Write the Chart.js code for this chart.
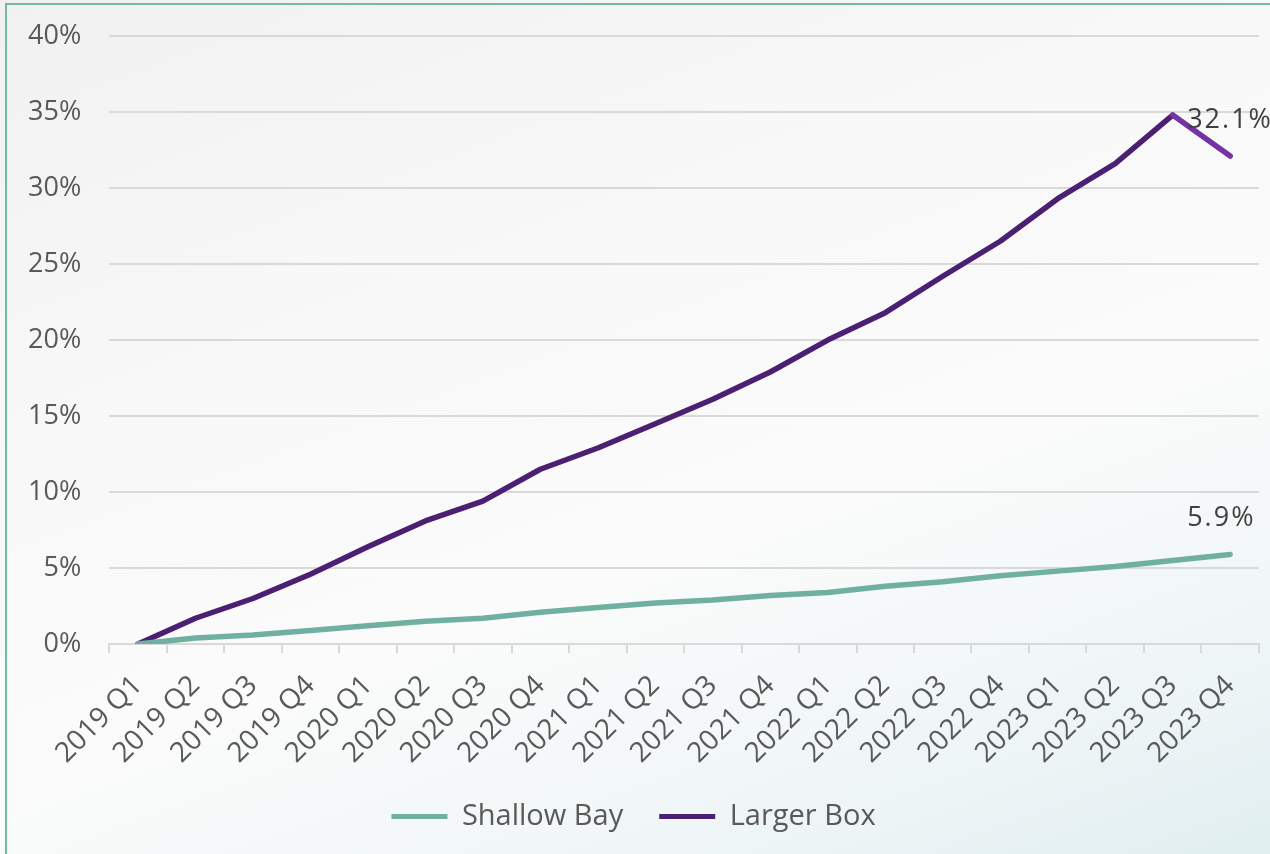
<html>
<head>
    <meta charset="utf-8">
    <script src="https://cdn.jsdelivr.net/npm/chart.js@4.4.1/dist/chart.umd.min.js"></script>
    <style>
        html, body {
            margin: 0;
            padding: 0;
            overflow: hidden;
        }
        .frame {
            position: relative;
            width: 1270px;
            height: 854px;
            background: linear-gradient(160deg, #f1f1f1 0%, #f8f8f8 35%, #fbfbfb 60%, #eef5f6 85%, #e0eef0 100%);
        }
        .border {
            position: absolute;
            left: 5px;
            top: 3px;
            width: 1300px;
            height: 900px;
            border: 2px solid #74b8a6;
        }
        .chart {
            position: absolute;
            left: 0;
            top: 0;
            width: 1270px;
            height: 854px;
        }
    </style>
</head>
<body>
    <div class="frame">
        <div class="border"></div>
        <div class="chart"><canvas id="canvas"></canvas></div>
    </div>
    <script>
        var quarters = ['2019 Q1', '2019 Q2', '2019 Q3', '2019 Q4', '2020 Q1', '2020 Q2', '2020 Q3', '2020 Q4',
            '2021 Q1', '2021 Q2', '2021 Q3', '2021 Q4', '2022 Q1', '2022 Q2', '2022 Q3', '2022 Q4',
            '2023 Q1', '2023 Q2', '2023 Q3', '2023 Q4'];
        var shallowBay = [0, 0.4, 0.6, 0.9, 1.2, 1.5, 1.7, 2.1, 2.4, 2.7, 2.9, 3.2, 3.4, 3.8, 4.1, 4.5, 4.8, 5.1, 5.5, 5.9];
        var largerBox = [0, 1.7, 3.0, 4.6, 6.4, 8.1, 9.4, 11.5, 12.9, 14.5, 16.1, 17.9, 20.0, 21.8, 24.2, 26.5, 29.3, 31.6, 34.8, 32.1];
        var yTicks = [0, 5, 10, 15, 20, 25, 30, 35, 40];

        var green = '#70b0a0';
        var purple = '#4b2072';
        var purpleLight = '#7432a4';
        var textColor = '#595959';

        // value label above the last point of each series
        var endLabels = {
            id: 'endLabels',
            afterDatasetsDraw: function(chart) {
                var ctx = chart.ctx;
                ctx.save();
                ctx.font = '27px "Open Sans"';
                ctx.fillStyle = '#404040';
                ctx.textAlign = 'left';
                ctx.textBaseline = 'alphabetic';
                ctx.letterSpacing = '2px';
                chart.data.datasets.forEach(function(ds, i) {
                    var meta = chart.getDatasetMeta(i);
                    var last = meta.data[meta.data.length - 1];
                    var value = ds.data[ds.data.length - 1];
                    ctx.fillText(value.toFixed(1) + '%', last.x - 43, last.y - 28);
                });
                ctx.restore();
            }
        };

        var ctx = document.getElementById('canvas').getContext('2d');
        var chart = new Chart(ctx, {
            type: 'line',
            data: {
                labels: quarters,
                datasets: [{
                    label: 'Shallow Bay',
                    data: shallowBay,
                    borderColor: green,
                    backgroundColor: green,
                    borderWidth: 5.5,
                    pointRadius: 0,
                    borderCapStyle: 'round',
                    borderJoinStyle: 'round',
                    tension: 0
                }, {
                    label: 'Larger Box',
                    data: largerBox,
                    borderColor: purple,
                    backgroundColor: purple,
                    borderWidth: 5.5,
                    pointRadius: 0,
                    borderCapStyle: 'round',
                    borderJoinStyle: 'round',
                    tension: 0,
                    segment: {
                        borderColor: function(c) {
                            return c.p1DataIndex === largerBox.length - 1 ? purpleLight : purple;
                        }
                    }
                }]
            },
            plugins: [endLabels],
            options: {
                responsive: true,
                maintainAspectRatio: false,
                animation: false,
                layout: {
                    padding: { left: 0, right: 3, top: 36, bottom: 13 }
                },
                plugins: {
                    legend: {
                        position: 'bottom',
                        labels: {
                            color: textColor,
                            font: { family: '"Open Sans"', size: 29 },
                            boxWidth: 56,
                            boxHeight: 5,
                            padding: 36,
                            generateLabels: function(chart) {
                                return chart.data.datasets.map(function(ds, i) {
                                    return {
                                        text: ds.label,
                                        fillStyle: ds.borderColor,
                                        strokeStyle: ds.borderColor,
                                        lineWidth: 0,
                                        fontColor: textColor,
                                        datasetIndex: i
                                    };
                                });
                            }
                        }
                    },
                    tooltip: { enabled: false }
                },
                scales: {
                    x: {
                        offset: true,
                        afterFit: function(axis) {
                            axis.height -= 20;
                        },
                        grid: {
                            offset: true,
                            drawOnChartArea: false,
                            drawTicks: true,
                            tickLength: 9,
                            color: '#d9d9d9',
                            lineWidth: 2
                        },
                        border: { color: '#d9d9d9', width: 2 },
                        ticks: {
                            color: textColor,
                            font: { family: '"Open Sans"', size: 28 },
                            minRotation: 45,
                            maxRotation: 45,
                            autoSkip: false,
                            padding: 16
                        }
                    },
                    y: {
                        min: 0,
                        max: 40,
                        afterBuildTicks: function(axis) {
                            axis.ticks = yTicks.map(function(v) { return { value: v }; });
                        },
                        afterFit: function(axis) {
                            axis.paddingTop = 0;
                        },
                        grid: {
                            color: '#d9d9d9',
                            lineWidth: 2,
                            drawTicks: false
                        },
                        border: { display: false },
                        ticks: {
                            color: textColor,
                            font: { family: '"Open Sans"', size: 27 },
                            padding: 28,
                            callback: function(v) { return v + '%'; }
                        }
                    }
                }
            }
        });
    </script>
</body>
</html>
